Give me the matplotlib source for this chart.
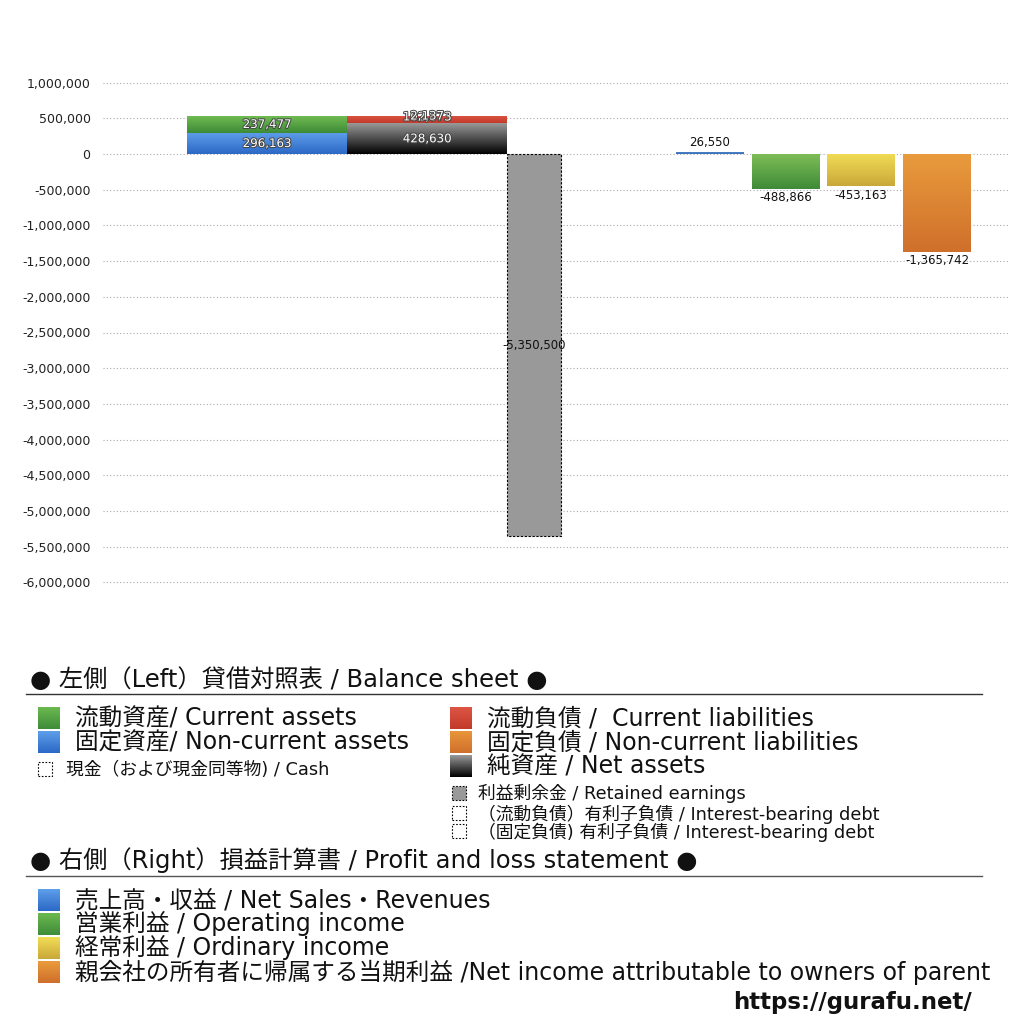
import numpy as np
import matplotlib
matplotlib.use("Agg")
import matplotlib.pyplot as plt
from matplotlib.patches import Rectangle
from matplotlib.colors import LinearSegmentedColormap
import matplotlib.patheffects as pe

plt.rcParams['font.family'] = ['DejaVu Sans', 'Noto Sans CJK JP']

# ---------------- data ----------------
current_assets = 237477
noncurrent_assets = 296163
current_liabilities = 102873
noncurrent_liabilities = 2137
net_assets = 428630
retained_earnings = -5350500

pl_labels = ["売上高・収益", "営業利益", "経常利益", "親会社の所有者に帰属する当期利益"]
pl_labels_en = ["Net Sales・Revenues", "Operating income", "Ordinary income",
                "Net income attributable to owners of parent"]
pl_values = [26550, -488866, -453163, -1365742]

yticks = list(range(-6000000, 1000001, 500000))

# ---------------- layout / style ----------------
W = H = 1024
fig = plt.figure(figsize=(10.24, 10.24), dpi=100)

def fx(px):
    return px / W

def fy(py):
    return 1 - py / H

ax = fig.add_axes([fx(103), fy(618), fx(1010 - 103), (618 - 47) / H])
ax.set_xlim(0, 907)
ax.set_ylim(-6500000, 1500000)

def grad_fill(ax, left, bottom, width, height, top_col, bot_col):
    rect = ax.bar(left, height, width=width, bottom=bottom, align='edge',
                  color='none', edgecolor='none', zorder=2)[0]
    cmap = LinearSegmentedColormap.from_list('g', [bot_col, top_col])
    grad = np.linspace(0, 1, 256).reshape(-1, 1)
    y0, y1 = min(bottom, bottom + height), max(bottom, bottom + height)
    im = ax.imshow(grad, cmap=cmap, origin='lower', aspect='auto',
                   extent=[left, left + width, y0, y1], zorder=2)
    im.set_clip_path(rect)
    return rect

white_fx = [pe.withStroke(linewidth=1.4, foreground='#444444')]
LBL = 8.5

# left bars: assets
xa, wa = 84, 160
grad_fill(ax, xa, 0, wa, noncurrent_assets, '#5e9fea', '#2c68c6')
grad_fill(ax, xa, noncurrent_assets, wa, current_assets, '#70bb52', '#3d8a37')
ax.text(xa + wa / 2, noncurrent_assets / 2, f"{noncurrent_assets:,}", ha='center', va='center',
        color='white', fontsize=LBL, path_effects=white_fx, zorder=5)
ax.text(xa + wa / 2, noncurrent_assets + current_assets / 2, f"{current_assets:,}", ha='center',
        va='center', color='white', fontsize=LBL, path_effects=white_fx, zorder=5)

# liabilities + net assets
xl = xa + wa
grad_fill(ax, xl, 0, wa, net_assets, '#9a9a9a', '#000000')
grad_fill(ax, xl, net_assets, wa, current_liabilities, '#dd5644', '#c23a2a')
grad_fill(ax, xl, net_assets + current_liabilities, wa, noncurrent_liabilities, '#e8963a', '#d0702c')
ax.text(xl + wa / 2, net_assets / 2, f"{net_assets:,}", ha='center', va='center',
        color='white', fontsize=LBL, path_effects=white_fx, zorder=5)
ax.text(xl + wa / 2, net_assets + current_liabilities / 2 + 40000, f"{current_liabilities:,}",
        ha='center', va='center', color='white', fontsize=LBL, path_effects=white_fx, zorder=5)
ax.text(xl + wa / 2, net_assets + current_liabilities + noncurrent_liabilities / 2,
        f"{noncurrent_liabilities:,}", ha='center', va='center', color='white', fontsize=LBL,
        path_effects=white_fx, zorder=5)

# retained earnings
xr, wr = xl + wa, 54
ax.bar(xr, retained_earnings, width=wr, bottom=0, align='edge', color='#999999',
       edgecolor='black', linestyle=(0, (2, 1.5)), linewidth=0.8, zorder=3)
ax.text(xr + wr / 2, retained_earnings / 2, f"{retained_earnings:,}", ha='center', va='center',
        color='#111111', fontsize=LBL, zorder=5)

# right side: P/L
pl_left = [573, 649, 724, 800]
pl_w = 68
pl_cols = [('#4a82c8', '#3a6eb8'), ('#7dbd56', '#3f8a38'),
           ('#f2dd55', '#c9a83a'), ('#e99b3d', '#cf6f2b')]
for left, v, (ct, cb) in zip(pl_left, pl_values, pl_cols):
    grad_fill(ax, left, 0, pl_w, v, ct, cb)
    if v >= 0:
        ax.text(left + pl_w / 2, v + 50000, f"{v:,}", ha='center', va='bottom',
                fontsize=LBL, color='#111111', zorder=5)
    else:
        ax.text(left + pl_w / 2, v - 30000, f"{v:,}", ha='center', va='top',
                fontsize=LBL, color='#111111', zorder=5)

ax.set_yticks(yticks)
ax.set_yticklabels([f"{t:,}" for t in yticks], fontsize=9, color='#222222')
ax.tick_params(axis='y', length=0, pad=9)
ax.set_xticks([])
for s in ax.spines.values():
    s.set_visible(False)
ax.yaxis.grid(True, linestyle=(0, (1, 2)), color='#aaaaaa', linewidth=0.8)
ax.set_axisbelow(True)

# ---------------- legend area ----------------
def square(px, py, size, top, bot, dashed=False, fill=None):
    if dashed:
        fig.add_artist(Rectangle((fx(px), fy(py + size)), size / W, size / H,
                                 transform=fig.transFigure,
                                 facecolor=fill if fill else 'white',
                                 edgecolor='black', linestyle=(0, (1.5, 1.5)), linewidth=0.8))
        return
    a = fig.add_axes([fx(px), fy(py + size), size / W, size / H])
    cmap = LinearSegmentedColormap.from_list('s', [bot, top])
    a.imshow(np.linspace(0, 1, 64).reshape(-1, 1), cmap=cmap, origin='lower', aspect='auto')
    a.axis('off')

def label(px, py, s, size=17):
    fig.text(fx(px), fy(py), s, ha='left', va='center', fontsize=size, color='#111111')

SMALL = 12.8
HEAD = 17.5

label(30, 680, "● 左側（Left）貸借対照表 / Balance sheet ●", HEAD)
fig.add_artist(plt.Line2D([fx(26), fx(982)], [fy(694), fy(694)], color='#333333', lw=1))

square(38, 707, 22, '#6cb84f', '#3f8c3a')
label(75, 718, "流動資産/ Current assets")
square(38, 731, 22, '#5e9fea', '#2c68c6')
label(75, 742, "固定資産/ Non-current assets")
square(38, 762, 14, None, None, dashed=True)
label(66, 770, "現金（および現金同等物) / Cash", SMALL)

square(450, 707, 22, '#dd5644', '#c23a2a')
label(487, 718, "流動負債 /  Current liabilities")
square(450, 731, 22, '#e8963a', '#d0702c')
label(487, 742, "固定負債 / Non-current liabilities")
square(450, 755, 22, '#9a9a9a', '#000000')
label(487, 766, "純資産 / Net assets")
square(452, 786, 14, None, None, dashed=True, fill='#999999')
label(478, 793, "利益剰余金 / Retained earnings", SMALL)
square(452, 806, 14, None, None, dashed=True)
label(478, 814, "（流動負債）有利子負債 / Interest-bearing debt", SMALL)
square(452, 824, 14, None, None, dashed=True)
label(478, 832, "（固定負債) 有利子負債 / Interest-bearing debt", SMALL)

label(30, 860, "● 右側（Right）損益計算書 / Profit and loss statement ●", HEAD)
fig.add_artist(plt.Line2D([fx(26), fx(982)], [fy(876), fy(876)], color='#555555', lw=1))

pl_leg_cols = [('#5e9fea', '#2c68c6'), ('#6cb84f', '#3f8c3a'),
               ('#f2dd55', '#c9a83a'), ('#e99b3d', '#cf6f2b')]
for i, (jp, en, (ct, cb)) in enumerate(zip(pl_labels, pl_labels_en, pl_leg_cols)):
    yy = 889 + 24 * i
    square(38, yy, 22, ct, cb)
    sep = " /" if i == 3 else " / "
    label(75, yy + 11, jp + sep + en)

fig.text(fx(972), fy(1003), "https://gurafu.net/", ha='right', va='center',
         fontsize=16.5, fontweight='bold', color='#111111')

fig.savefig("out.png", dpi=100)
